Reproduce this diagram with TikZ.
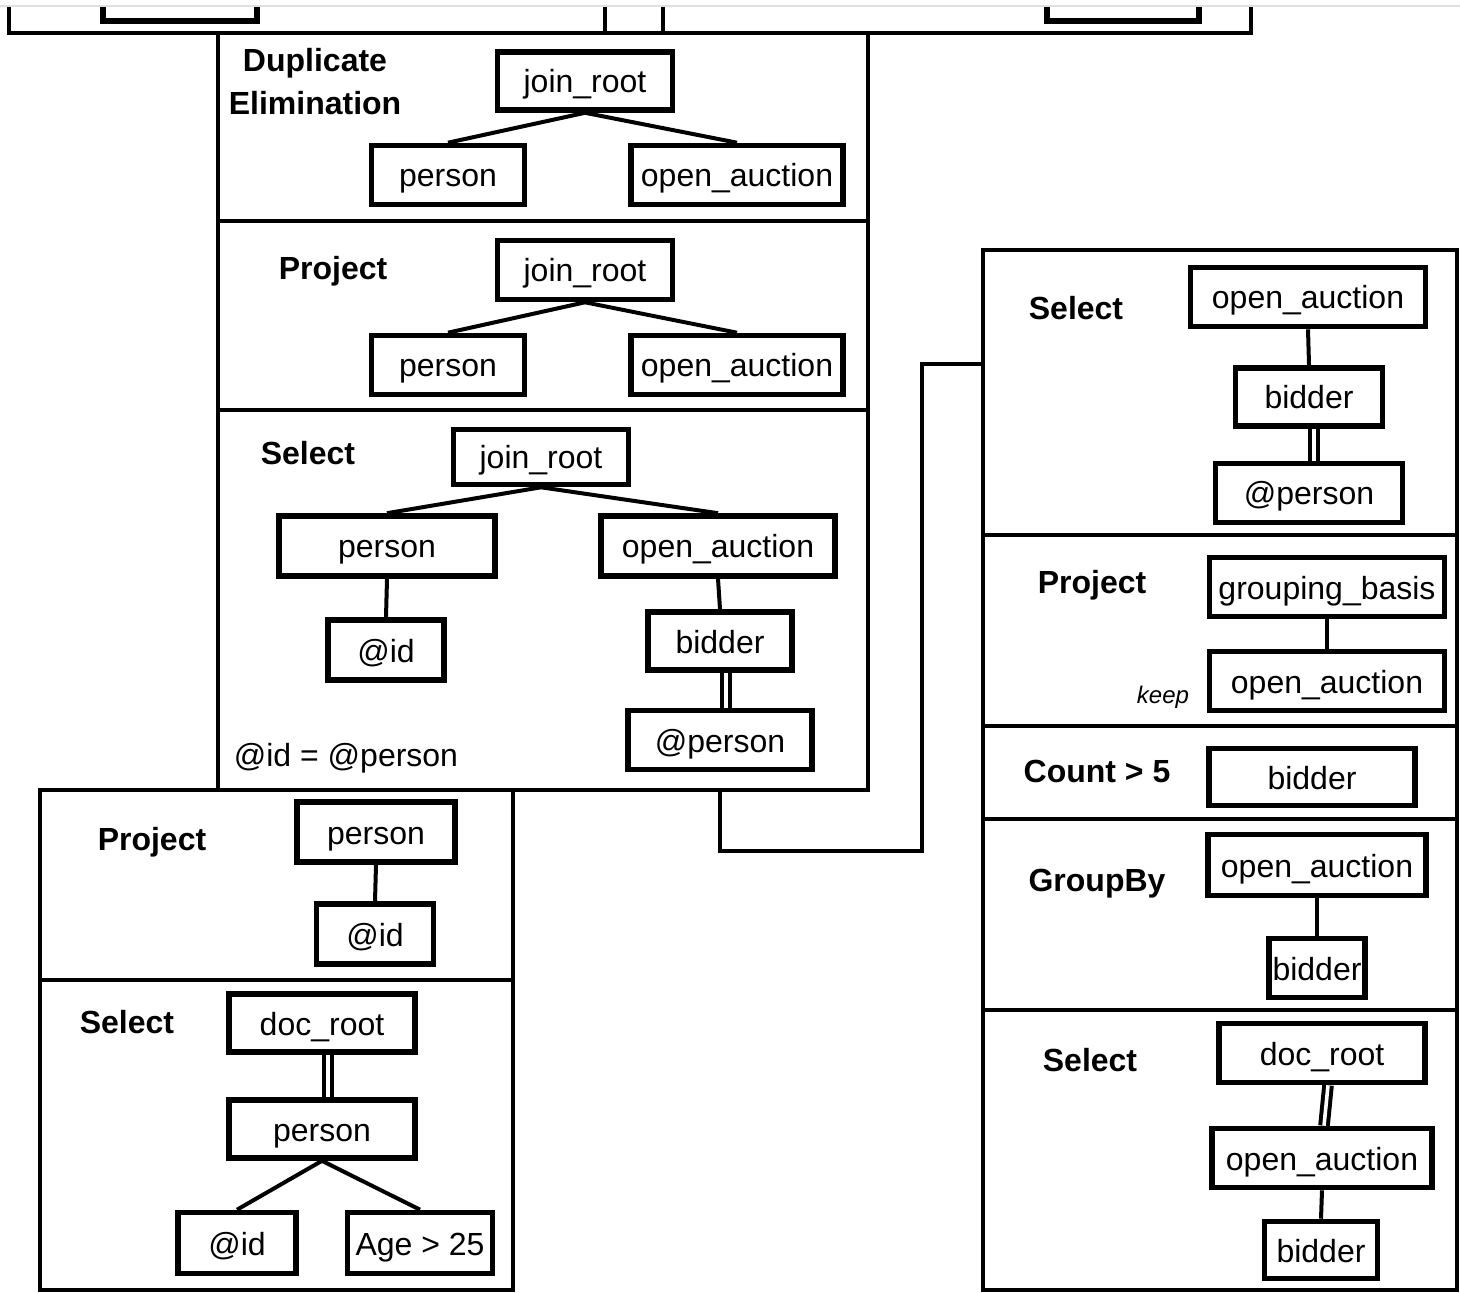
\documentclass[tikz,border=0pt]{standalone}
\usepackage{fontspec}
\setmainfont{Liberation Sans}
\newcommand\nfont{\fontsize{16pt}{19pt}\selectfont}
\newcommand\bfont{\fontsize{16pt}{21.5pt}\selectfont\bfseries}
\newcommand\kfont{\fontsize{12pt}{14pt}\selectfont\itshape}
\tikzset{
  nd/.style={draw, line width=2.8pt, inner sep=0pt, font=\nfont, text=black,
             text height=14pt, text depth=2pt},
  lbl/.style={font=\bfont, inner sep=0pt, align=center, text=black},
  edge/.style={line width=2pt},
  dbl/.style={line width=2pt, double, double distance=1.8pt},
  stack/.style={line width=2pt},
  conn/.style={line width=2pt},
  wh/.style 2 args={minimum width=#1*0.5pt, minimum height=#2*0.5pt},
}
\begin{document}
\begin{tikzpicture}[x=0.5pt,y=-0.5pt]
\useasboundingbox (0,0) rectangle (1460,1293);
% faint page edge
\draw[black!12, line width=0.6pt] (0,6) -- (1460,6);
% partial boxes at top
\draw[stack] (9,7) -- (9,33) -- (605,33) -- (605,7);
\draw[line width=2.6pt] (103,7) -- (103,21) -- (257,21) -- (257,7);
\draw[stack] (663,7) -- (663,33) -- (1251,33) -- (1251,7);
\draw[line width=2.6pt] (1047,7) -- (1047,21) -- (1199,21) -- (1199,7);
% middle stack
\draw[stack] (218,33) rectangle (868,790);
\draw[stack] (218,221) -- (868,221);
\draw[stack] (218,410) -- (868,410);
% left stack
\draw[stack] (40,790) rectangle (513,1290);
\draw[stack] (40,980) -- (513,980);
% right stack
\draw[stack] (983,250) rectangle (1457,1290);
\draw[stack] (983,535) -- (1457,535);
\draw[stack] (983,726) -- (1457,726);
\draw[stack] (983,819) -- (1457,819);
\draw[stack] (983,1010) -- (1457,1010);

% ---- middle: Duplicate Elimination
\node[lbl] (dlab) at (315,82) {Duplicate\\Elimination};
\node[nd, wh={175}{58}] (d1) at (585,81) {join\_root};
\node[nd, wh={153}{59}] (d2) at (448,175) {person};
\node[nd, wh={212}{59}] (d3) at (737,175) {open\_auction};
\draw[edge] (d1.south) -- (d2.north);
\draw[edge] (d1.south) -- (d3.north);
% ---- middle: Project
\node[lbl] (plab) at (333,271) {Project};
\node[nd, wh={175}{59}] (p1) at (585,270) {join\_root};
\node[nd, wh={153}{59}] (p2) at (448,365) {person};
\node[nd, wh={212}{59}] (p3) at (737,365) {open\_auction};
\draw[edge] (p1.south) -- (p2.north);
\draw[edge] (p1.south) -- (p3.north);
% ---- middle: Select
\node[lbl] (slab) at (308,453) {Select};
\node[nd, wh={175}{55}] (s1) at (541,457) {join\_root};
\node[nd, wh={216}{60}] (s2) at (387,546) {person};
\node[nd, wh={234}{60}] (s3) at (718,546) {open\_auction};
\node[nd, wh={116}{60}] (s4) at (386,650) {@id};
\node[nd, wh={144}{58}] (s5) at (720,641) {bidder};
\node[nd, wh={184}{59}] (s6) at (720,740) {@person};
\node[font=\nfont, inner sep=0pt] (scond) at (346,758) {@id = @person};
\draw[edge] (s1.south) -- (s2.north);
\draw[edge] (s1.south) -- (s3.north);
\draw[edge] (s2.south) -- (s4.north);
\draw[edge] (s3.south) -- (s5.north);
\draw[dbl] ([xshift=3pt]s5.south) -- ([xshift=3pt]s6.north);

% ---- left: Project
\node[lbl] (lplab) at (152,842) {Project};
\node[nd, wh={158}{60}] (lp1) at (376,832) {person};
\node[nd, wh={117}{60}] (lp2) at (375,934) {@id};
\draw[edge] (lp1.south) -- (lp2.north);
% ---- left: Select
\node[lbl] (lslab) at (127,1022) {Select};
\node[nd, wh={186}{58}] (ls1) at (322,1023) {doc\_root};
\node[nd, wh={186}{58}] (ls2) at (322,1129) {person};
\node[nd, wh={118}{61}] (ls3) at (237,1243) {@id};
\node[nd, wh={145}{61}] (ls4) at (420,1243) {Age > 25};
\draw[dbl] ([xshift=3pt]ls1.south) -- ([xshift=3pt]ls2.north);
\draw[edge] (ls2.south) -- (ls3.north);
\draw[edge] (ls2.south) -- (ls4.north);

% ---- right: Select
\node[lbl] (r1lab) at (1076,308) {Select};
\node[nd, wh={235}{59}] (r11) at (1308,297) {open\_auction};
\node[nd, wh={147}{58}] (r12) at (1309,397) {bidder};
\node[nd, wh={187}{59}] (r13) at (1309,493) {@person};
\draw[edge] (r11.south) -- (r12.north);
\draw[dbl] ([xshift=2.5pt]r12.south) -- ([xshift=2.5pt]r13.north);
% ---- right: Project
\node[lbl] (r2lab) at (1092,585) {Project};
\node[nd, wh={235}{59}] (r21) at (1327,587) {grouping\_basis};
\node[nd, wh={235}{59}] (r22) at (1327,681) {open\_auction};
\node[font=\kfont, inner sep=0pt] (keep) at (1163,697) {keep};
\draw[edge] (r21.south) -- (r22.north);
% ---- right: Count
\node[lbl] (r3lab) at (1097,771) {Count > 5};
\node[nd, wh={206}{57}] (r31) at (1312,777) {bidder};
% ---- right: GroupBy
\node[lbl] (r4lab) at (1097,884) {GroupBy};
\node[nd, wh={218}{61}] (r41) at (1317,865) {open\_auction};
\node[nd, wh={96}{59}] (r42) at (1317,968) {bidder};
\draw[edge] (r41.south) -- (r42.north);
% ---- right: Select
\node[lbl] (r5lab) at (1090,1060) {Select};
\node[nd, wh={206}{59}] (r51) at (1322,1053) {doc\_root};
\node[nd, wh={220}{59}] (r52) at (1322,1158) {open\_auction};
\node[nd, wh={113}{57}] (r53) at (1321,1250) {bidder};
\draw[dbl] ([xshift=3pt]r51.south) -- ([xshift=1pt]r52.north);
\draw[edge] (r52.south) -- (r53.north);

% ---- connector between stacks
\coordinate (cstart) at (720,790);
\coordinate (cturn) at (922,851);
\coordinate (cin) at (983,364);
\draw[conn] (cstart) |- (cturn) |- (cin);
\end{tikzpicture}
\end{document}
